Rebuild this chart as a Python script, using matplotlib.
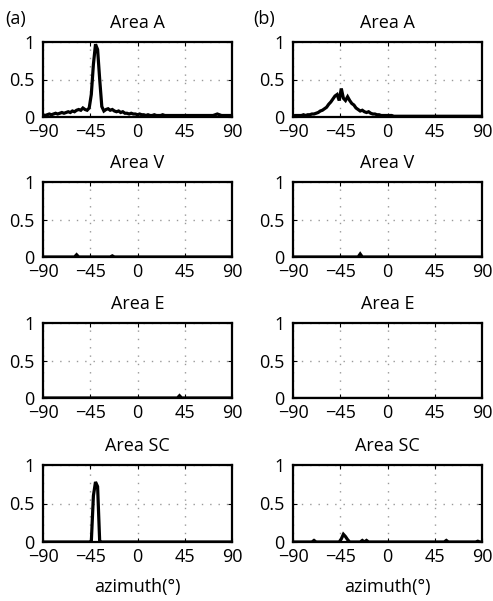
import matplotlib
matplotlib.use("Agg")
import matplotlib.pyplot as plt
import numpy as np

plt.rcParams['font.family'] = ['Open Sans', 'DejaVu Sans']

azimuth = list(range(-90, 91, 2))  # 91 bins, 2 degree spacing

# (a) Area A
a_A = [0.03, 0.02, 0.03, 0.04, 0.03, 0.04, 0.05, 0.04, 0.05, 0.06,
       0.05, 0.06, 0.07, 0.06, 0.08, 0.07, 0.09, 0.10, 0.09, 0.12,
       0.10, 0.09, 0.12, 0.30, 0.70, 0.97, 0.90, 0.50, 0.14, 0.08,
       0.10, 0.11, 0.09, 0.10, 0.08, 0.07, 0.08, 0.06, 0.07, 0.05,
       0.05, 0.04, 0.05, 0.04, 0.04, 0.03, 0.04, 0.03, 0.03, 0.02,
       0.03, 0.02, 0.02, 0.03, 0.02, 0.02, 0.02, 0.03, 0.02, 0.02,
       0.02, 0.02, 0.02, 0.02, 0.02, 0.02, 0.02, 0.02, 0.02, 0.02,
       0.02, 0.02, 0.02, 0.02, 0.02, 0.02, 0.02, 0.02, 0.02, 0.02,
       0.02, 0.02, 0.03, 0.04, 0.03, 0.02, 0.02, 0.02, 0.02, 0.02,
       0.02]
# (b) Area A
b_A = [0.01, 0.02, 0.02, 0.02, 0.02, 0.03, 0.02, 0.03, 0.03, 0.04,
       0.04, 0.05, 0.06, 0.08, 0.09, 0.11, 0.13, 0.17, 0.20, 0.24,
       0.28, 0.30, 0.22, 0.38, 0.25, 0.22, 0.27, 0.22, 0.18, 0.16,
       0.12, 0.10, 0.08, 0.09, 0.07, 0.06, 0.07, 0.05, 0.04, 0.04,
       0.03, 0.03, 0.02, 0.02, 0.02, 0.02, 0.02, 0.02, 0.01, 0.01,
       0.01, 0.01, 0.01, 0.01, 0.01, 0.01, 0.01, 0.01, 0.01, 0.01,
       0.01, 0.01, 0.01, 0.01, 0.01, 0.01, 0.01, 0.01, 0.01, 0.01,
       0.01, 0.01, 0.01, 0.01, 0.01, 0.01, 0.01, 0.01, 0.01, 0.01,
       0.01, 0.01, 0.01, 0.01, 0.01, 0.01, 0.01, 0.01, 0.01, 0.01,
       0.01]
# (a) Area V
a_V = [0.0] * 91
a_V[16] = 0.03
a_V[33] = 0.015
# (b) Area V
b_V = [0.0] * 91
b_V[32] = 0.04
# (a) Area E
a_E = [0.0] * 91
a_E[65] = 0.03
# (b) Area E
b_E = [0.0] * 91
# (a) Area SC
a_SC = [0.0] * 91
a_SC[24] = 0.60
a_SC[25] = 0.78
a_SC[26] = 0.72
# (b) Area SC
b_SC = [0.0] * 91
b_SC[10] = 0.02
b_SC[23] = 0.04
b_SC[24] = 0.10
b_SC[25] = 0.07
b_SC[26] = 0.03
b_SC[33] = 0.02
b_SC[35] = 0.02
b_SC[73] = 0.02
b_SC[88] = 0.01

titles = ["Area A", "Area V", "Area E", "Area SC"]
col_a = [a_A, a_V, a_E, a_SC]
col_b = [b_A, b_V, b_E, b_SC]
xticks = [-90, -45, 0, 45, 90]
xticklabels = ["\u221290", "\u221245", "0", "45", "90"]
yticks = [0, 0.5, 1]
yticklabels = ["0", "0.5", "1"]

W, H = 493, 601
fig = plt.figure(figsize=(W / 100, H / 100), dpi=100)

lefts = [43, 293]
width = 189
tops = [42, 182, 323, 465]
bottoms = [117, 257, 398, 542]

for c, col in enumerate([col_a, col_b]):
    for r in range(4):
        ax = fig.add_axes([lefts[c] / W, 1 - bottoms[r] / H, width / W,
                           (bottoms[r] - tops[r]) / H])
        ax.plot(azimuth, col[r], color='black', lw=2.3, solid_joinstyle='miter')
        ax.set_xlim(-90, 90)
        ax.set_ylim(0, 1)
        ax.set_xticks(xticks)
        ax.set_xticklabels(xticklabels)
        ax.set_yticks(yticks)
        ax.set_yticklabels(yticklabels)
        ax.tick_params(direction='in', length=3, width=0.8, labelsize=13,
                       top=True, right=True)
        ax.tick_params(axis='x', pad=4)
        ax.tick_params(axis='y', pad=6)
        ax.grid(True, linestyle=(0, (1, 5)), color='#999999', lw=1.0)
        for s in ax.spines.values():
            s.set_linewidth(1.6)
        ax.set_title(titles[r], fontsize=13, pad=10)
        if r == 3:
            ax.set_xlabel("azimuth(\u00b0)", fontsize=13, labelpad=9)

fig.text(16 / W, 1 - 19 / H, "(a)", fontsize=13, ha='center', va='center')
fig.text(264 / W, 1 - 19 / H, "(b)", fontsize=13, ha='center', va='center')

fig.savefig("out.png", dpi=100)
